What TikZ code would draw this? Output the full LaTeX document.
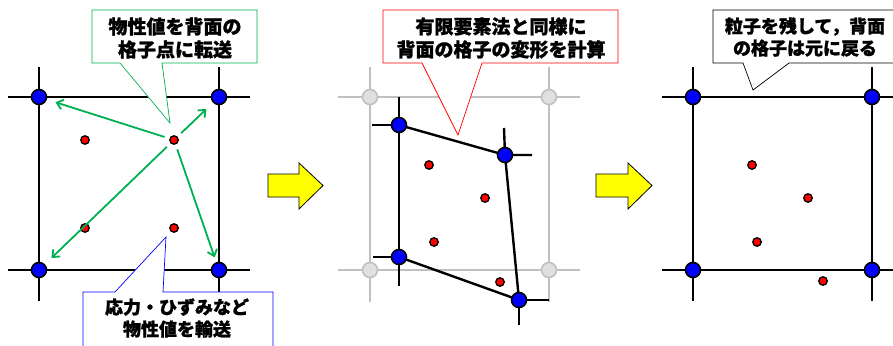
\documentclass[tikz,border=0pt]{standalone}
\usepackage{fontspec}
\newfontfamily\jp{Noto Sans CJK JP}[BoldFeatures={FakeBold=1.2}]
\usetikzlibrary{arrows.meta}
\definecolor{mygreen}{RGB}{0,176,80}
\definecolor{gridgray}{RGB}{192,192,192}
\definecolor{nodegray}{RGB}{224,224,224}
\definecolor{arrowyellow}{RGB}{255,255,0}
\begin{document}
\begin{tikzpicture}[x=1pt,y=-1pt,
  gridline/.style={line width=2.4pt,black},
  grayline/.style={line width=2.4pt,gridgray},
  bnode/.style={circle,fill=blue,draw=black,line width=1.6pt,minimum size=15pt,inner sep=0pt},
  gnode/.style={circle,fill=nodegray,draw=gridgray,line width=1.6pt,minimum size=15pt,inner sep=0pt},
  pdot/.style={circle,fill=red,draw=black,line width=1.3pt,minimum size=8.5pt,inner sep=0pt},
  garrow/.style={mygreen,line width=1.8pt,-{Straight Barb[length=6pt,width=10pt]},shorten <=5pt,shorten >=9pt},
  callout/.style={fill=white,line width=0.7pt},
  ctext/.style={font=\jp\bfseries\fontsize{19}{23}\selectfont,align=center,inner sep=0pt},
  ctexts/.style={font=\jp\bfseries\fontsize{18}{22}\selectfont,align=center,inner sep=0pt},
  bigarrow/.style={fill=arrowyellow,draw=black,line width=0.8pt}
]
\useasboundingbox (0,0) rectangle (893,345);

% ---------- Panel 1 ----------
\draw[gridline] (8,97) -- (250,97);
\draw[gridline] (8,270) -- (250,270);
\draw[gridline] (39,67) -- (39,301);
\draw[gridline] (219,67) -- (219,301);
\node[bnode] (a1) at (39,97) {};
\node[bnode] (a2) at (219,97) {};
\node[bnode] (a3) at (39,270) {};
\node[bnode] (a4) at (219,270) {};
\node[pdot] (ap1) at (85,140) {};
\node[pdot] (ap2) at (174,140) {};
\node[pdot] (ap3) at (85,228) {};
\node[pdot] (ap4) at (174,228) {};
\draw[garrow] (ap2) -- (a1);
\draw[garrow] (ap2) -- (a2);
\draw[garrow] (ap2) -- (a3);
\draw[garrow,shorten >=5pt] (ap2) -- (a4);

% green callout
\draw[callout,draw=mygreen] (92,10) -- (257,10) -- (257,63) -- (162,63) -- (170,123) -- (120,63) -- (92,63) -- cycle;
\node[ctext] (gt) at (175,38) {物性値を背面の\\格子点に転送};
% blue callout
\draw[callout,draw=blue] (83,350) -- (83,292) -- (115,292) -- (166,237) -- (163,292) -- (273,292) -- (273,350);
\node[ctexts] (bt) at (177,318) {応力・ひずみなど\\物性値を輸送};

% ---------- Arrow 1 ----------
\draw[bigarrow] (268,174) -- (299,174) -- (299,163) -- (323,185.5) -- (299,209) -- (299,197) -- (268,197) -- cycle;

% ---------- Panel 2 ----------
\draw[grayline] (338,97) -- (580,97);
\draw[grayline] (338,270) -- (580,270);
\draw[grayline] (370,67) -- (370,302);
\draw[grayline] (549,67) -- (549,302);
\node[gnode] (g1) at (370,97) {};
\node[gnode] (g2) at (549,97) {};
\node[gnode] (g3) at (370,270) {};
\node[gnode] (g4) at (549,270) {};
\coordinate (b1) at (399,125);
\coordinate (b2) at (505,155);
\coordinate (b3) at (399,257);
\coordinate (b4) at (519,300);
\draw[gridline] (399,97) -- (399,286);
\draw[gridline] (372,125) -- (b1);
\draw[gridline] (373,257) -- (b3);
\draw[gridline] (504,128) -- (b2) -- (532,155);
\draw[gridline] (549,300) -- (b4) -- (519,325);
\draw[gridline,line join=round] (b1) -- (b2) -- (b4) -- (b3);
\node[bnode] (n1) at (b1) {};
\node[bnode] (n2) at (b2) {};
\node[bnode] (n3) at (b3) {};
\node[bnode] (n4) at (b4) {};
\node[pdot] (bp1) at (429,165) {};
\node[pdot] (bp2) at (485,198) {};
\node[pdot] (bp3) at (434,242) {};
\node[pdot] (bp4) at (500,282) {};

% red callout
\draw[callout,draw=red] (383,10) -- (618,10) -- (618,63) -- (482,63) -- (458,135) -- (422,63) -- (383,63) -- cycle;
\node[ctext] (rt) at (501,38) {有限要素法と同様に\\背面の格子の変形を計算};

% ---------- Arrow 2 ----------
\draw[bigarrow] (596,174) -- (628,174) -- (628,163) -- (652,185.5) -- (628,209) -- (628,197) -- (596,197) -- cycle;

% ---------- Panel 3 ----------
\draw[gridline] (662,97) -- (900,97);
\draw[gridline] (662,270) -- (900,270);
\draw[gridline] (693,67) -- (693,301);
\draw[gridline] (872,67) -- (872,301);
\node[bnode] (c1) at (693,97) {};
\node[bnode] (c2) at (872,97) {};
\node[bnode] (c3) at (693,270) {};
\node[bnode] (c4) at (872,270) {};
\node[pdot] (cp1) at (752,165) {};
\node[pdot] (cp2) at (808,198) {};
\node[pdot] (cp3) at (757,242) {};
\node[pdot] (cp4) at (823,281) {};

% black callout
\draw[callout,draw=black] (900,10) -- (713,10) -- (713,63) -- (743,63) -- (753,90) -- (789,63) -- (900,63);
\node[ctexts] (kt) at (805,37) {粒子を残して，背面\\の格子は元に戻る};
\end{tikzpicture}
\end{document}
